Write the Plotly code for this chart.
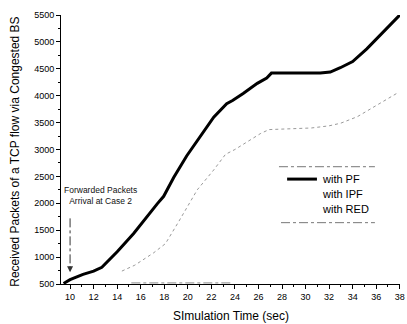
import plotly.graph_objects as go

# ---- data ----
pf_x = [9.45, 10, 11.1, 12, 12.7, 13.4, 14, 15.4, 16.5, 17.4, 17.95, 18.8, 19.9, 21.05,
        22.2, 23.3, 23.8, 24.7, 25.9, 26.7, 27.1, 31.25, 32.1, 32.95, 34.0, 35.2, 36.6, 38]
pf_y = [510, 580, 680, 740, 810, 960, 1100, 1440, 1750, 1990, 2130, 2480, 2880, 3230,
        3600, 3850, 3910, 4040, 4230, 4330, 4420, 4420, 4440, 4520, 4635, 4870, 5190, 5500]

ipf_x = [14.4, 15.5, 17.1, 18.1, 19.2, 20.8, 22.2, 23.2, 24.0, 26.2, 26.9, 30.5, 32.0,
         33.0, 34.4, 35.8, 36.7, 37.8]
ipf_y = [740, 850, 1080, 1250, 1650, 2250, 2620, 2910, 3000, 3300, 3370, 3400, 3440,
         3490, 3610, 3790, 3910, 4050]

red_x = [15.2, 17.0, 19.0, 21.0, 23.8]
red_y = [520, 520, 520, 520, 520]

x_ticks = [10, 12, 14, 16, 18, 20, 22, 24, 26, 28, 30, 32, 34, 36, 38]
y_ticks = [500, 1000, 1500, 2000, 2500, 3000, 3500, 4000, 4500, 5000, 5500]

series_names = ["with PF", "with IPF", "with RED"]
x_title = "SImulation Time (sec)"
y_title = "Received Packets of a TCP flow via Congested BS"
arrow_x = 10
arrow_top = 1720
arrow_tip = 720

FONT = "Liberation Sans, Arial, sans-serif"

fig = go.Figure()
fig.add_trace(go.Scatter(x=pf_x, y=pf_y, mode="lines", name=series_names[0],
                         line=dict(color="black", width=3)))
fig.add_trace(go.Scatter(x=ipf_x, y=ipf_y, mode="lines", name=series_names[1],
                         line=dict(color="#9a9a9a", width=1, dash="dot")))
fig.add_trace(go.Scatter(x=red_x, y=red_y, mode="lines", name=series_names[2],
                         line=dict(color="#8a8a8a", width=1, dash="dashdot")))

# arrow (dash-dot shaft + head)
fig.add_shape(type="line", xref="x", yref="y", x0=arrow_x, x1=arrow_x,
              y0=arrow_top, y1=arrow_tip + 120,
              line=dict(color="#333", width=1, dash="dashdot"))
fig.add_annotation(x=arrow_x, y=arrow_tip, ax=arrow_x, ay=arrow_tip + 140,
                   xref="x", yref="y", axref="x", ayref="y", text="",
                   showarrow=True, arrowhead=2, arrowsize=1.2, arrowwidth=1,
                   arrowcolor="#333")
fig.add_annotation(x=0.117, y=0.328, xref="paper", yref="paper",
                   text="Forwarded Packets<br>Arrival at Case 2", showarrow=False,
                   xanchor="center", yanchor="middle",
                   font=dict(family=FONT, size=8.5, color="#111"), align="center")

# custom legend
fig.add_shape(type="line", xref="paper", yref="paper", x0=0.643, x1=0.926, y0=0.436, y1=0.436,
              line=dict(color="#777", width=1, dash="dashdot"))
fig.add_shape(type="line", xref="paper", yref="paper", x0=0.649, x1=0.926, y0=0.228, y1=0.228,
              line=dict(color="#777", width=1, dash="dashdot"))
fig.add_shape(type="line", xref="paper", yref="paper", x0=0.667, x1=0.755, y0=0.390, y1=0.390,
              line=dict(color="black", width=3))
for name, yy in zip(series_names, [0.390, 0.335, 0.279]):
    fig.add_annotation(x=0.764, y=yy, xref="paper", yref="paper", text=name,
                       showarrow=False, xanchor="left", yanchor="middle",
                       font=dict(family=FONT, size=11, color="black"))

# axis titles
fig.add_annotation(x=0.5, y=-0.119, xref="paper", yref="paper", text=x_title,
                   showarrow=False, xanchor="center", yanchor="middle",
                   font=dict(family=FONT, size=12, color="black"))
fig.add_annotation(x=-0.134, y=0.49, xref="paper", yref="paper", text=y_title,
                   showarrow=False, xanchor="center", yanchor="middle", textangle=-90,
                   font=dict(family=FONT, size=12, color="black"))

fig.update_layout(
    width=407, height=324,
    margin=dict(l=61, r=7, t=15, b=40, autoexpand=False),
    paper_bgcolor="white", plot_bgcolor="white",
    showlegend=False,
    font=dict(family=FONT, color="black"),
    xaxis=dict(range=[9.23, 38.02], tickvals=x_ticks, showgrid=False, zeroline=False,
               showline=True, linecolor="black", linewidth=1, automargin=False,
               ticks="outside", ticklen=4, tickcolor="black",
               tickfont=dict(family=FONT, size=9),
               minor=dict(dtick=1, tick0=0, ticks="outside", ticklen=2, tickcolor="black")),
    yaxis=dict(range=[500, 5500], tickvals=y_ticks, showgrid=False, zeroline=False,
               showline=True, linecolor="black", linewidth=1, automargin=False,
               ticks="outside", ticklen=4, tickcolor="black",
               tickfont=dict(family=FONT, size=9),
               minor=dict(dtick=250, tick0=0, ticks="outside", ticklen=2, tickcolor="black")),
)

fig.write_html("out.html", config={"displayModeBar": False},
               post_script="document.body.style.margin='0';document.body.style.overflow='hidden';")
